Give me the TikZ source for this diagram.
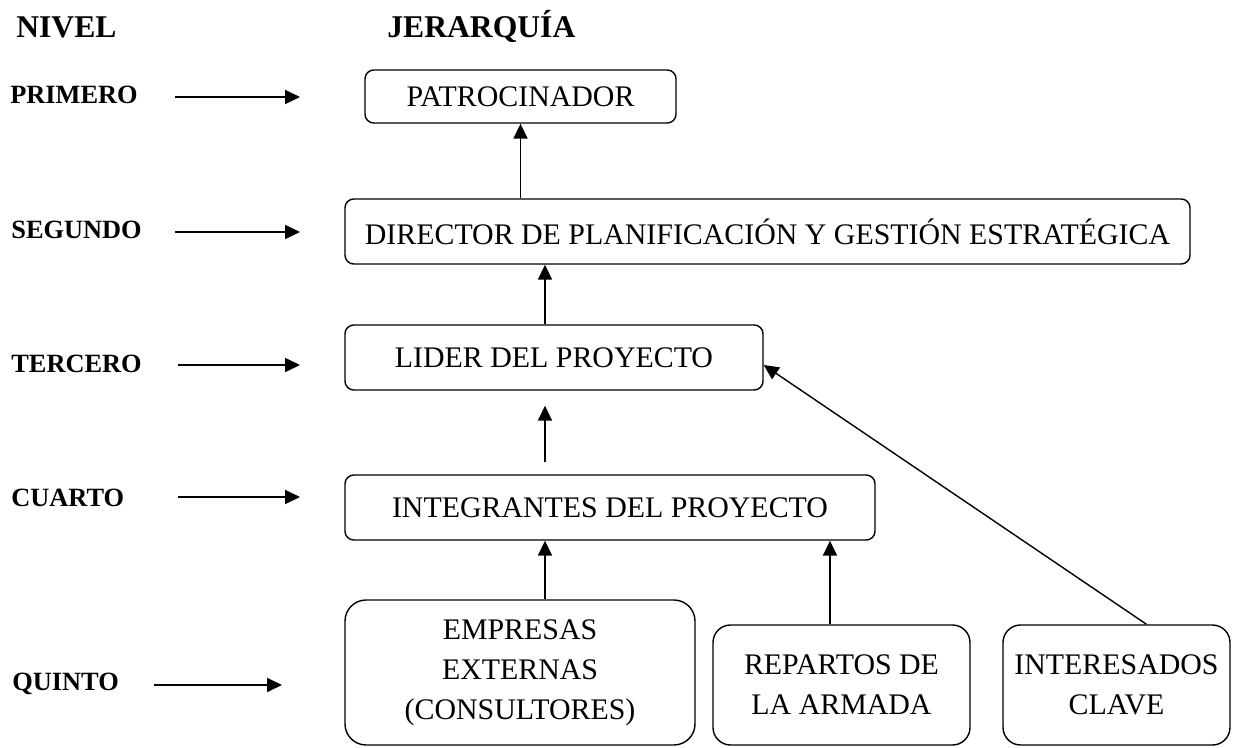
\documentclass[tikz,border=0pt]{standalone}
\usepackage{fontspec}
\setmainfont{Liberation Serif}
\usetikzlibrary{arrows.meta}

\begin{document}
\begin{tikzpicture}[box/.style={draw,rounded corners=5pt,line width=0.8pt,align=center,inner sep=0pt,font=\fontsize{17}{22.7}\selectfont},
	level_node/.style={anchor=west,inner sep=0pt,font=\fontsize{15}{17}\selectfont\bfseries},
	head_node/.style={anchor=west,inner sep=0pt,font=\fontsize{18}{20}\selectfont\bfseries},
	arr/.style={-{Triangle[length=8.5pt,width=8pt]},line width=0.8pt}]

	\useasboundingbox (0,0) rectangle (25.2,-14.96);

	\node[head_node] (nivel) at (0.32,-0.54) {NIVEL};
	\node[head_node] (jer) at (7.74,-0.54) {JERARQUÍA};

	\node[level_node] (l1) at (0.2,-1.90) {PRIMERO};
	\node[level_node] (l2) at (0.22,-4.60) {SEGUNDO};
	\node[level_node] (l3) at (0.22,-7.28) {TERCERO};
	\node[level_node] (l4) at (0.22,-9.96) {CUARTO};
	\node[level_node] (l5) at (0.24,-13.68) {QUINTO};

	\coordinate (s1) at (3.5,-1.94);  \coordinate (e1) at (6.0,-1.94);
	\coordinate (s2) at (3.5,-4.64);  \coordinate (e2) at (6.0,-4.64);
	\coordinate (s3) at (3.56,-7.30); \coordinate (e3) at (6.0,-7.30);
	\coordinate (s4) at (3.56,-9.94); \coordinate (e4) at (6.0,-9.94);
	\coordinate (s5) at (3.08,-13.7); \coordinate (e5) at (5.64,-13.7);

	\node[box, minimum width=6.22cm, minimum height=1.06cm] (patro) at (10.41,-1.93) {PATROCINADOR};
	\node[box, minimum width=16.9cm, minimum height=1.3cm] (dir) at (15.35,-4.63) {DIRECTOR DE PLANIFICACIÓN Y GESTIÓN ESTRATÉGICA};
	\node[box, minimum width=8.36cm, minimum height=1.3cm] (lider) at (11.08,-7.15) {LIDER DEL PROYECTO};
	\node[box, minimum width=10.6cm, minimum height=1.3cm] (integ) at (12.2,-10.15) {INTEGRANTES DEL PROYECTO};
	\node[box, rounded corners=12pt, minimum width=7.0cm, minimum height=2.9cm] (empr) at (10.4,-13.45) {EMPRESAS\\EXTERNAS\\(CONSULTORES)};
	\node[box, rounded corners=10pt, minimum width=5.14cm, minimum height=2.4cm] (rep) at (16.83,-13.7) {REPARTOS DE\\LA ARMADA};
	\node[box, rounded corners=10pt, minimum width=4.54cm, minimum height=2.4cm] (inter) at (22.33,-13.7) {INTERESADOS\\CLAVE};

	\coordinate (ax) at (10.9,0);
	\coordinate (bx) at (16.6,0);

	\draw[arr] (s1) -- (e1);
	\draw[arr] (s2) -- (e2);
	\draw[arr] (s3) -- (e3);
	\draw[arr] (s4) -- (e4);
	\draw[arr] (s5) -- (e5);

	\draw[arr] (dir.north -| patro) -- (patro.south);
	\draw[arr] (lider.north -| ax) -- (dir.south -| ax);
	\draw[arr, shorten <=0.24cm, shorten >=0.3cm] (integ.north -| ax) -- (lider.south -| ax);
	\draw[arr] (empr.north -| ax) -- (integ.south -| ax);
	\draw[arr] (rep.north -| bx) -- (integ.south -| bx);
	\draw[arr] ([xshift=0.6cm]inter.north) -- ([yshift=-0.15cm]lider.east);
\end{tikzpicture}
\end{document}
